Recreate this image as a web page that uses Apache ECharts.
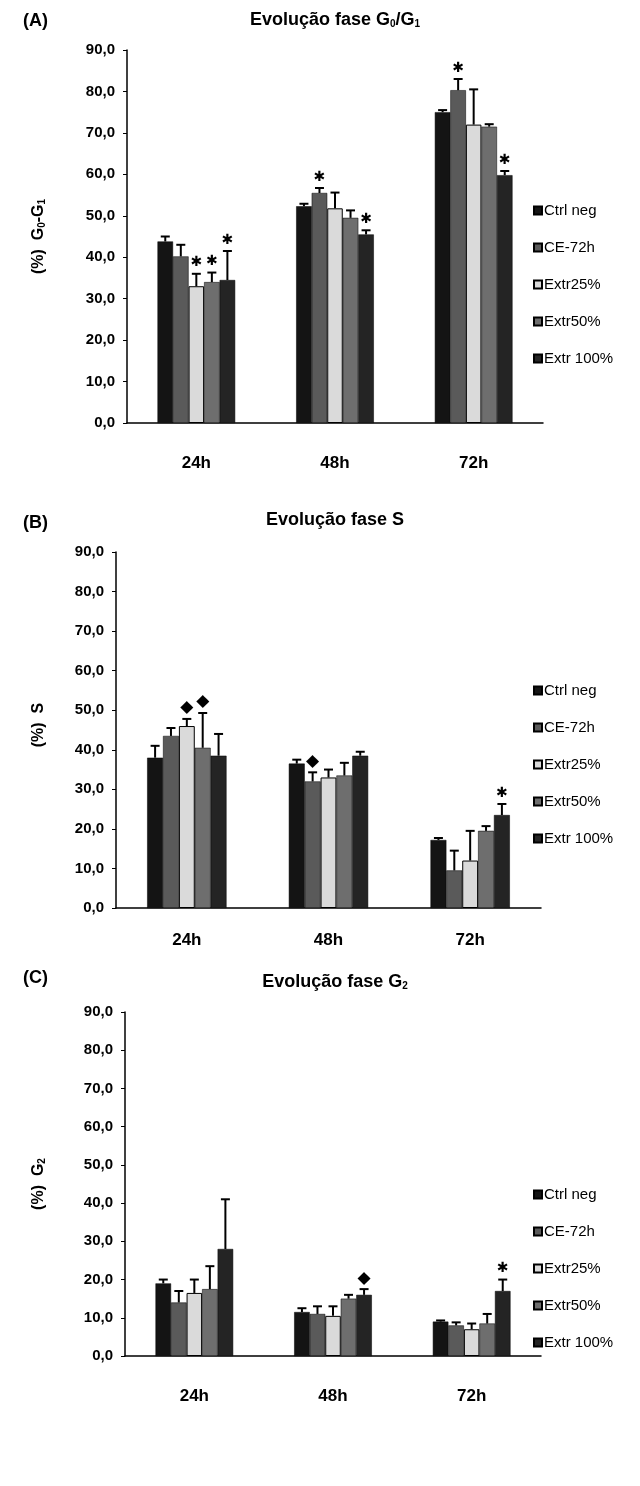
<!DOCTYPE html>
<html><head><meta charset="utf-8">
<script src="https://cdn.jsdelivr.net/npm/echarts@6/dist/echarts.min.js"></script>
<style>html,body{margin:0;padding:0;background:#fff}#c{width:640px;height:1486px}</style>
</head><body><div id="c"></div>
<script>
// ---------- data ----------
const categories = ['24h', '48h', '72h'];
const seriesNames = ['Ctrl neg', 'CE-72h', 'Extr25%', 'Extr50%', 'Extr 100%'];

// Panel A: G0/G1 (%)
const aCtrl = [43.8, 52.3, 75.0], aCtrlErr = [1.2, 0.6, 0.5];
const aCE   = [40.2, 55.5, 80.3], aCEErr   = [2.8, 1.2, 2.7];
const aE25  = [33.0, 51.8, 72.0], aE25Err  = [3.0, 3.8, 8.5];
const aE50  = [34.0, 49.5, 71.5], aE50Err  = [2.3, 1.8, 0.6];
const aE100 = [34.5, 45.5, 59.8], aE100Err = [7.0, 1.0, 1.0];
const aMarks = [[2,0,'*'],[3,0,'*'],[4,0,'*'],[1,1,'*'],[4,1,'*'],[1,2,'*'],[4,2,'*']];

// Panel B: S (%)
const bCtrl = [38.0, 36.5, 17.2], bCtrlErr = [3.0, 1.0, 0.5];
const bCE   = [43.5, 32.0, 9.5],  bCEErr   = [2.0, 2.3, 5.0];
const bE25  = [46.0, 33.0, 12.0], bE25Err  = [1.8, 2.0, 7.5];
const bE50  = [40.5, 33.5, 19.5], bE50Err  = [8.8, 3.2, 1.2];
const bE100 = [38.5, 38.5, 23.5], bE100Err = [5.5, 1.0, 2.8];
const bMarks = [[2,0,'◆'],[3,0,'◆'],[1,1,'◆'],[4,2,'*']];

// Panel C: G2 (%)
const cCtrl = [19.0, 11.5, 9.0],  cCtrlErr = [1.0, 1.0, 0.3];
const cCE   = [14.0, 11.0, 8.0],  cCEErr   = [3.0, 2.0, 0.8];
const cE25  = [16.5, 10.5, 7.0],  cE25Err  = [3.5, 2.5, 1.5];
const cE50  = [17.5, 15.0, 8.5],  cE50Err  = [6.0, 1.0, 2.5];
const cE100 = [28.0, 16.0, 17.0], cE100Err = [13.0, 1.5, 3.0];
const cMarks = [[4,1,'◆'],[4,2,'*']];

const yMin = 0, yMax = 90, yInterval = 10;

// ---------- layout / style ----------
const FONT = 'Liberation Sans, Arial, sans-serif';
const colors = ['#141414', '#5a5a5a', '#dadada', '#6e6e6e', '#242424'];
const CAT_GAP = 0.44;

const panels = [
  { means:[aCtrl,aCE,aE25,aE50,aE100], errs:[aCtrlErr,aCEErr,aE25Err,aE50Err,aE100Err], marks:aMarks,
    grid:{left:127, top:50, width:416, height:373}, label:'(A)', labelTop:7, xMargin:32,
    title:'Evolução fase G{sub|0}/G{sub|1}', titleTop:6, yname:'(%)  G{sub|0}-G{sub|1}', nameGap:80, legendTop:198 },
  { means:[bCtrl,bCE,bE25,bE50,bE100], errs:[bCtrlErr,bCEErr,bE25Err,bE50Err,bE100Err], marks:bMarks,
    grid:{left:116, top:552, width:425, height:356}, label:'(B)', labelTop:509, xMargin:24,
    title:'Evolução fase S', titleTop:506, yname:'(%)  S', nameGap:69, legendTop:678, nameOffset:10 },
  { means:[cCtrl,cCE,cE25,cE50,cE100], errs:[cCtrlErr,cCEErr,cE25Err,cE50Err,cE100Err], marks:cMarks,
    grid:{left:125, top:1012, width:416, height:344}, label:'(C)', labelTop:964, xMargin:32,
    title:'Evolução fase G{sub|2}', titleTop:968, yname:'(%)  G{sub|2}', nameGap:78, legendTop:1182 }
];

const richSub = {
  sub: { fontSize: 10, fontWeight: 'bold', fontFamily: FONT, verticalAlign: 'bottom', lineHeight: 10 }
};

const option = {
  animation: false,
  backgroundColor: '#fff',
  grid: [], xAxis: [], yAxis: [], series: [], legend: [], title: []
};

panels.forEach((p, pi) => {
  option.grid.push(p.grid);
  option.xAxis.push({
    type: 'category', gridIndex: pi, data: categories,
    axisLine: { lineStyle: { color: '#000', width: 1.5 } },
    axisTick: { show: false },
    axisLabel: { color: '#000', fontSize: 17, fontWeight: 'bold', fontFamily: FONT, margin: p.xMargin }
  });
  option.yAxis.push({
    type: 'value', gridIndex: pi, min: yMin, max: yMax, interval: yInterval,
    axisLine: { show: true, lineStyle: { color: '#000', width: 1.5 } },
    axisTick: { show: true, length: 4, lineStyle: { color: '#000' } },
    splitLine: { show: false },
    axisLabel: { color: '#000', fontSize: 15, fontWeight: 'bold', fontFamily: FONT, margin: 12,
      formatter: v => v.toFixed(1).replace('.', ',') },
    name: p.yname, nameLocation: 'middle', nameRotate: 90, nameGap: p.nameGap,
    nameTextStyle: { color: '#000', fontSize: 16, fontWeight: 'bold', fontFamily: FONT, rich: richSub,
      padding: [0, 0, 0, p.nameOffset || 0] }
  });
  option.title.push({
    text: p.label, left: 18, top: p.labelTop,
    textStyle: { fontSize: 18, fontWeight: 'bold', fontFamily: FONT, color: '#000' }
  });
  option.title.push({
    text: p.title, left: 330, textAlign: 'center', top: p.titleTop,
    textStyle: { fontSize: 18, fontWeight: 'bold', fontFamily: FONT, color: '#000', rich: richSub }
  });
  option.legend.push({
    data: seriesNames, orient: 'vertical', left: 528, top: p.legendTop,
    itemWidth: 8, itemHeight: 8, itemGap: 22, icon: 'rect', selectedMode: false,
    textStyle: { fontSize: 15, fontFamily: FONT, color: '#000', padding: [0, 0, 0, -3] }
  });
  seriesNames.forEach((n, si) => {
    option.series.push({
      type: 'bar', name: n, xAxisIndex: pi, yAxisIndex: pi, data: p.means[si],
      barGap: '0%', barCategoryGap: (CAT_GAP * 100) + '%',
      itemStyle: { color: colors[si], borderColor: '#000', borderWidth: si === 2 ? 1 : 0.5 }
    });
  });
  const ebData = [];
  categories.forEach((c, ci) => {
    seriesNames.forEach((n, si) => ebData.push([ci, si, p.means[si][ci], p.errs[si][ci]]));
  });
  const markMap = {};
  p.marks.forEach(m => { markMap[m[0] + '-' + m[1]] = m[2]; });
  option.series.push({
    type: 'custom', xAxisIndex: pi, yAxisIndex: pi, data: ebData, z: 5,
    encode: { x: 0, y: 2 },
    renderItem: (params, api) => {
      const ci = api.value(0), si = api.value(1), v = api.value(2), e = api.value(3);
      const band = api.size([1, 0])[0];
      const groupW = band * (1 - CAT_GAP);
      const barW = groupW / seriesNames.length;
      const cx = api.coord([ci, 0])[0] - groupW / 2 + barW * (si + 0.5);
      const y0 = api.coord([ci, v])[1];
      const y1 = api.coord([ci, v + e])[1];
      const children = [
        { type: 'line', shape: { x1: cx, y1: y0, x2: cx, y2: y1 }, style: { stroke: '#000', lineWidth: 2 } },
        { type: 'line', shape: { x1: cx - 4.5, y1: y1, x2: cx + 4.5, y2: y1 }, style: { stroke: '#000', lineWidth: 2 } }
      ];
      const mk = markMap[si + '-' + ci];
      if (mk) {
        children.push({ type: 'text', style: {
          text: mk === '*' ? '✱' : '◆', x: cx, y: y1 - 11,
          textAlign: 'center', textVerticalAlign: 'middle',
          fontSize: mk === '*' ? 14 : 17, fontFamily: 'DejaVu Sans', fill: '#000' } });
      }
      return { type: 'group', children };
    }
  });
});

const chart = echarts.init(document.getElementById('c'), null, { renderer: 'canvas' });
chart.setOption(option);
</script>
</body></html>
